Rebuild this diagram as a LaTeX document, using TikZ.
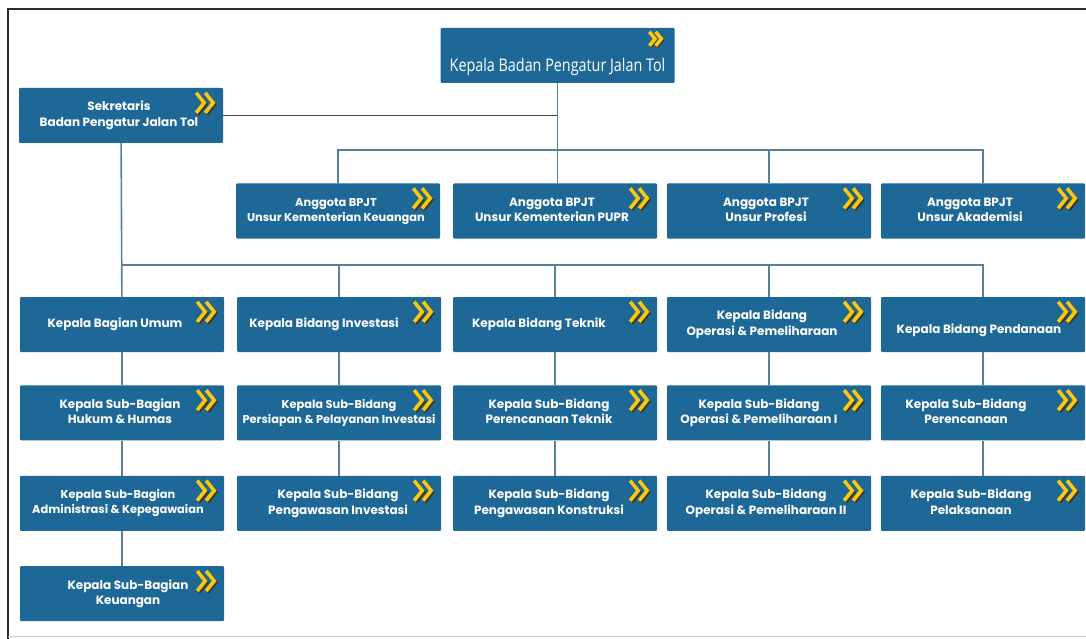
\documentclass[tikz,border=0pt]{standalone}
\usepackage{fontspec}
\setmainfont{Poppins}
\newfontfamily\titlefont[FakeStretch=0.82]{Open Sans}
\usetikzlibrary{positioning}
\definecolor{bpjtblue}{RGB}{30,104,152}
\definecolor{linkgrey}{RGB}{88,128,152}
\definecolor{chevgold}{RGB}{246,200,24}
\definecolor{chevdark}{RGB}{70,55,20}
\definecolor{framegrey}{RGB}{45,45,45}
\newcommand{\chevgap}{18pt}
\renewcommand{\arraystretch}{1.12}
% box text: lines centred, pushed a little to the left of the chevrons
\newcommand{\utext}[1]{\begin{tabular}{@{}c@{}}#1\end{tabular}\hspace*{\chevgap}}
\tikzset{
  unit/.style={rectangle, fill=bpjtblue, text=white, minimum width=204pt, minimum height=55pt,
               inner sep=2pt, rounded corners=1pt, font=\bfseries\fontsize{12}{14}\selectfont},
  smallunit/.style={unit, font=\bfseries\fontsize{11.4}{13.5}\selectfont},
  textshift/.code={\def\chevgap{#1}},
  headunit/.style={unit, minimum width=234pt, font=\titlefont\fontsize{17.5}{19}\selectfont},
  link/.style={draw=linkgrey, line width=1.6pt},
  secline/.style={draw=framegrey!90, line width=1.4pt},
  frameline/.style={draw=framegrey, line width=1.6pt},
  chevron/.pic={
    \draw[chevdark, line width=3.6pt] (-7.5,-8.5) -- (0.5,1.5) -- (-7.5,11.5);
    \draw[chevdark, line width=3.6pt] (1.5,-8.5) -- (9.5,1.5) -- (1.5,11.5);
    \draw[chevgold, line width=3.6pt] (-9,-10) -- (-1,0) -- (-9,10);
    \draw[chevgold, line width=3.6pt] (0,-10) -- (8,0) -- (0,10);
  },
}

\begin{document}
\begin{tikzpicture}[x=1pt, y=-1pt]
  \useasboundingbox[fill=white] (0,0) rectangle (1086,639);
  % frame of the page
  \draw[frameline] (1086,9) -- (8,9) -- (8,639);
  \draw[draw=framegrey!25, line width=0.8pt] (8,636) -- (1086,636);

  % top
  \node[headunit, textshift=0pt] (kbpjt) at (557.5,55.5) {\utext{\\[2pt]Kepala Badan Pengatur Jalan Tol}};
  \node[unit, textshift=4pt] (sek) at (121,115.5) {\utext{Sekretaris\\Badan Pengatur Jalan Tol}};

  % members
  \node[smallunit, textshift=4pt] (a1) at (338,211) {\utext{Anggota BPJT\\Unsur Kementerian Keuangan}};
  \node[unit, textshift=6pt] (a2) at (555,211) {\utext{Anggota BPJT\\Unsur Kementerian PUPR}};
  \node[unit, textshift=6pt] (a3) at (769,211) {\utext{Anggota BPJT\\Unsur Profesi}};
  \node[unit, textshift=26pt] (a4) at (983,211) {\utext{Anggota BPJT\\Unsur Akademisi}};

  % bidang
  \node[unit, textshift=14pt] (b1) at (122,324.5) {\utext{Kepala Bagian Umum}};
  \node[unit, textshift=30pt] (b2) at (339,324.5) {\utext{Kepala Bidang Investasi}};
  \node[unit, textshift=32pt] (b3) at (555,324.5) {\utext{Kepala Bidang Teknik}};
  \node[unit, textshift=14pt] (b4) at (769,324.5) {\utext{Kepala Bidang\\Operasi \& Pemeliharaan}};
  \node[unit, textshift=8pt] (b5) at (983,324.5) {\utext{\\[-4pt]Kepala Bidang Pendanaan}};

  % sub-bagian / sub-bidang
  \node[unit, textshift=4pt] (c1) [below=33pt of b1] {\utext{Kepala Sub-Bagian\\Hukum \& Humas}};
  \node[smallunit, textshift=8pt] (d1) [below=35pt of c1] {\utext{Kepala Sub-Bagian\\Administrasi \& Kepegawaian}};
  \node[unit, textshift=-12pt] (e1) [below=35pt of d1] {\utext{Kepala Sub-Bagian\\Keuangan}};
  \node[smallunit, textshift=0pt] (c2) [below=33pt of b2] {\utext{Kepala Sub-Bidang\\Persiapan \& Pelayanan Investasi}};
  \node[unit, textshift=2pt] (d2) [below=35pt of c2] {\utext{Kepala Sub-Bidang\\Pengawasan Investasi}};
  \node[unit, textshift=12pt] (c3) [below=33pt of b3] {\utext{Kepala Sub-Bidang\\Perencanaan Teknik}};
  \node[unit, textshift=12pt] (d3) [below=35pt of c3] {\utext{Kepala Sub-Bidang\\Pengawasan Konstruksi}};
  \node[unit, textshift=20pt] (c4) [below=33pt of b4] {\utext{Kepala Sub-Bidang\\Operasi \& Pemeliharaan I}};
  \node[unit, textshift=6pt] (d4) [below=35pt of c4] {\utext{Kepala Sub-Bidang\\Operasi \& Pemeliharaan II}};
  \node[unit, textshift=34pt] (c5) [below=33pt of b5] {\utext{Kepala Sub-Bidang\\Perencanaan}};
  \node[unit, textshift=24pt] (d5) [below=35pt of c5] {\utext{Kepala Sub-Bidang\\Pelaksanaan}};

  \pic[scale=0.7] at ([xshift=-19pt, yshift=-11pt]kbpjt.north east) {chevron};
  \foreach \n in {sek,a1,a2,a3,a4,b1,b2,b3,b4,b5,c1,c2,c3,c4,c5,d1,d2,d3,d4,d5,e1}
    \pic at ([xshift=-18pt, yshift=-15pt]\n.north east) {chevron};

  % connectors
  \coordinate (tbus) at (557.5,150);
  \coordinate (lbus) at (122,265);
  \draw[secline] (sek) -- (sek -| kbpjt);
  \draw[link] (kbpjt) -- (kbpjt |- a2.north);
  \draw[link] (a1.north) |- (tbus) -| (a4.north);
  \draw[link] (tbus) -| (a3.north);
  \draw[link] (sek) -- (b1);
  \draw[link] (lbus) -| (b5.north);
  \draw[link] (b2.north) -- (b2.north |- lbus);
  \draw[link] (b3.north) -- (b3.north |- lbus);
  \draw[link] (b4.north) -- (b4.north |- lbus);
  \draw[link] (b1) -- (c1);
  \draw[link] (c1) -- (d1);
  \draw[link] (d1) -- (e1);
  \draw[link] (b2) -- (c2);
  \draw[link] (c2) -- (d2);
  \draw[link] (b3) -- (c3);
  \draw[link] (c3) -- (d3);
  \draw[link] (b4) -- (c4);
  \draw[link] (c4) -- (d4);
  \draw[link] (b5) -- (c5);
  \draw[link] (c5) -- (d5);
\end{tikzpicture}
\end{document}
